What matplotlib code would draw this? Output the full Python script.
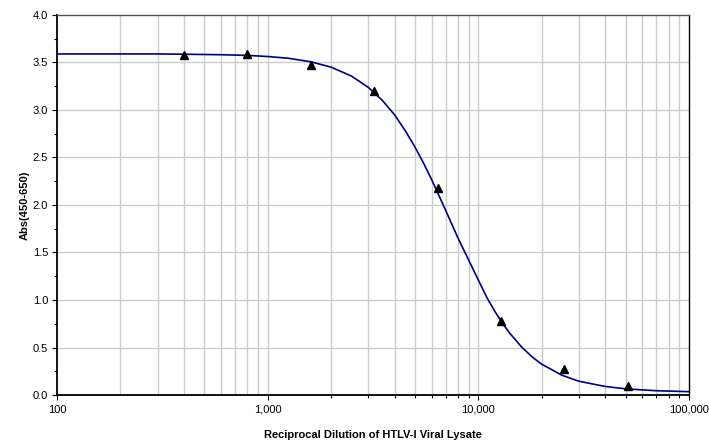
import matplotlib
matplotlib.use("Agg")
import matplotlib.pyplot as plt
from matplotlib.ticker import FixedLocator, FixedFormatter

# Measured data points
dilution = [400, 800, 1600, 3200, 6400, 12800, 25600, 51200]
absorbance = [3.58, 3.59, 3.47, 3.20, 2.18, 0.78, 0.27, 0.09]

# Fitted curve
curve_x = [100, 200, 300, 400, 600, 800, 1000, 1250, 1600, 2000, 2500, 3000, 3500,
           4000, 4500, 5000, 5500, 6000, 6500, 7000, 7500, 8000, 9000, 10000,
           11000, 12000, 13000, 14000, 16000, 18000, 20000, 25000, 30000, 40000,
           50000, 70000, 100000]
curve_y = [3.59, 3.59, 3.59, 3.587, 3.582, 3.575, 3.563, 3.545, 3.508, 3.451, 3.357,
           3.239, 3.102, 2.95, 2.782, 2.611, 2.439, 2.268, 2.10, 1.943, 1.794, 1.654,
           1.42, 1.21, 1.022, 0.877, 0.758, 0.659, 0.508, 0.401, 0.324, 0.207, 0.145,
           0.09, 0.065, 0.045, 0.035]

x_major = [100, 1000, 10000, 100000]
x_major_labels = ["100", "1,000", "10,000", "100,000"]
y_major = [0.0, 0.5, 1.0, 1.5, 2.0, 2.5, 3.0, 3.5, 4.0]

plt.rcParams['font.family'] = ['Liberation Sans', 'DejaVu Sans']

fig = plt.figure(figsize=(7.09, 4.41), dpi=100)
ax = fig.add_axes([57/709, 1-395/441, 632/709, 380/441])

ax.set_xscale('log')
ax.set_xlim(100, 100000)
ax.set_ylim(0, 4.0)

grid_minor = [m * 10**e for e in (2, 3, 4) for m in range(2, 10)]
for gx in x_major[1:-1] + grid_minor:
    ax.axvline(gx, color='#cccccc', lw=1.0, zorder=0)
for gy in y_major[1:-1]:
    ax.axhline(gy, color='#cccccc', lw=1.0, zorder=0)

ax.plot(curve_x, curve_y, color='#000080', lw=1.2, zorder=3)
ax.plot(dilution, absorbance, linestyle='none', marker='^', color='black',
        markersize=6, zorder=4)

ax.xaxis.set_major_locator(FixedLocator(x_major))
ax.xaxis.set_major_formatter(FixedFormatter(x_major_labels))
ax.xaxis.set_minor_locator(FixedLocator([m * 10**e for e in (3, 4) for m in range(2, 10)]))
ax.xaxis.set_minor_formatter(FixedFormatter([]))
ax.yaxis.set_major_locator(FixedLocator(y_major))
ax.set_yticklabels([f"{v:.1f}" for v in y_major])
ax.yaxis.set_minor_locator(FixedLocator([0.25 + 0.5 * i for i in range(8)]))

ax.tick_params(axis='both', which='major', direction='out', length=3.5, width=0.8,
               labelsize=8, colors='black', pad=3)
ax.tick_params(axis='both', which='minor', direction='out', length=2.5, width=0.8)
ax.tick_params(axis='x', which='major', pad=3.5)

for s in ('left', 'bottom'):
    ax.spines[s].set_linewidth(1.3)
    ax.spines[s].set_color('black')
ax.spines['right'].set_linewidth(1.0)
ax.spines['right'].set_color('black')
ax.spines['top'].set_linewidth(1.0)
ax.spines['top'].set_color('#555555')

ax.set_xlabel('Reciprocal Dilution of HTLV-I Viral Lysate', fontsize=8,
              fontweight='bold', labelpad=11)
ax.set_ylabel('Abs(450-650)', fontsize=8, fontweight='bold', labelpad=2)

fig.savefig('out.png', dpi=100)
